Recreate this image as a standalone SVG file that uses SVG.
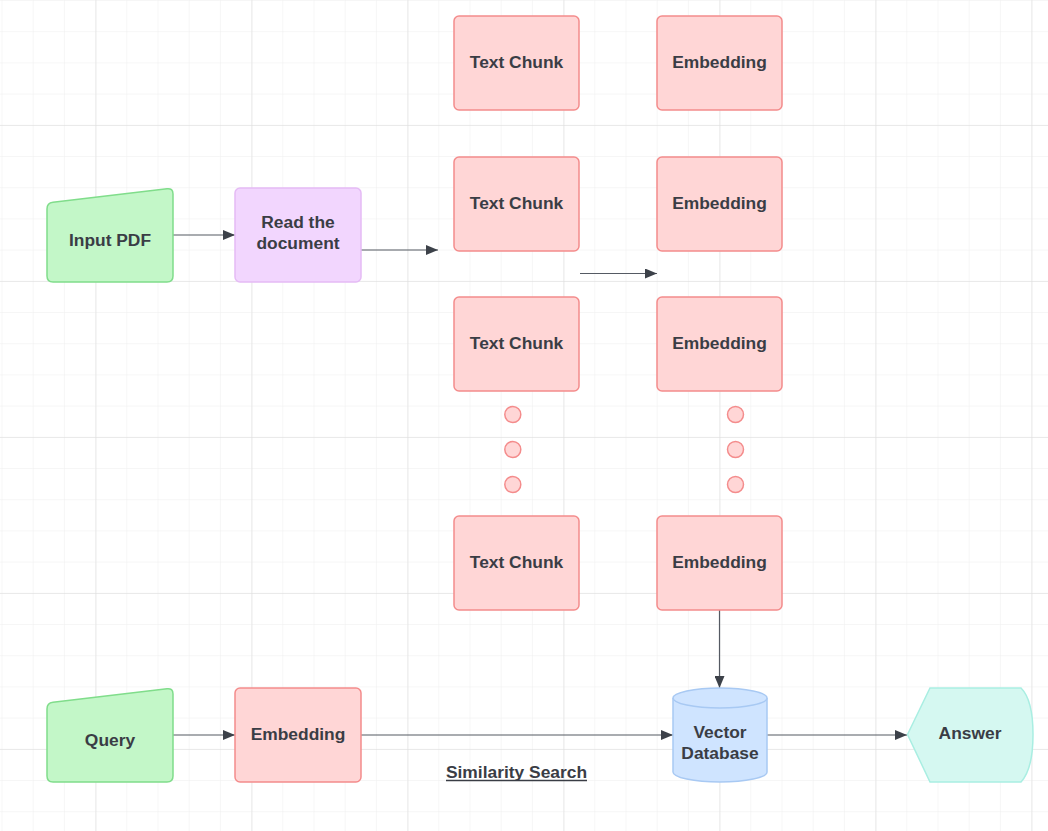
<svg xmlns="http://www.w3.org/2000/svg" width="1048" height="831" viewBox="0 0 1048 831">
  <defs>
    <pattern id="minor" patternUnits="userSpaceOnUse" x="1.5" y="0" width="31.2" height="31.2">
      <path d="M0 0 V31.2 M0 0 H31.2" fill="none" stroke="#eeeeee" stroke-width="1"/>
    </pattern>
    <pattern id="major" patternUnits="userSpaceOnUse" x="95.5" y="125" width="156" height="156">
      <path d="M0 0 V156 M0 0 H156" fill="none" stroke="#dcdcdc" stroke-width="1"/>
    </pattern>
    <marker id="arrow" viewBox="0 0 12 10" refX="12" refY="5" markerWidth="12" markerHeight="10" markerUnits="userSpaceOnUse" orient="auto">
      <path d="M0 0 L12 5 L0 10 Z" fill="#3c4149"/>
    </marker>
  </defs>
  <style>
    .lbl { font-family: "Liberation Sans", Arial, sans-serif; font-weight: bold; font-size: 17.4px; fill: #3a3d45; text-anchor: middle; dominant-baseline: central; }
    .red { fill: #ffd6d6; stroke: #f48c8c; stroke-width: 1.5; }
    .green { fill: #c3f7c8; stroke: #80dd8b; stroke-width: 1.5; }
    .purple { fill: #f2d6fe; stroke: #e5bbf5; stroke-width: 1.5; }
    .blue { fill: #cfe4ff; stroke: #a8c9f3; stroke-width: 1.5; }
    .teal { fill: #d5f8f1; stroke: #a9eee2; stroke-width: 1.5; }
    .conn { fill: none; stroke: #555a63; stroke-width: 1.2; marker-end: url(#arrow); }
  </style>

  <rect width="1048" height="831" fill="#ffffff"/>
  <rect width="1048" height="831" fill="url(#minor)"/>
  <rect width="1048" height="831" fill="url(#major)"/>

  <g id="connectors">
    <path class="conn" d="M173 235 H235"/>
    <path class="conn" d="M361 250 H438"/>
    <path class="conn" d="M580 273.5 H657"/>
    <path class="conn" d="M173 735 H235"/>
    <path class="conn" d="M361 735 H673"/>
    <path class="conn" d="M767 735 H907"/>
    <path class="conn" d="M719.5 610 V688"/>
  </g>

  <g id="input-pdf">
    <path class="green" d="M47 209 Q47 203 53 202.3 L167 188.7 Q173 188 173 194 V276 Q173 282 167 282 H53 Q47 282 47 276 Z"/>
    <text class="lbl" x="110" y="240">Input PDF</text>
  </g>

  <g id="read-document">
    <rect class="purple" x="235" y="188" width="126" height="94" rx="5"/>
    <text class="lbl" x="298" y="222">Read the</text>
    <text class="lbl" x="298" y="243">document</text>
  </g>

  <g id="chunk-1">
    <rect class="red" x="454" y="16" width="125" height="94" rx="5"/>
    <text class="lbl" x="516.5" y="62">Text Chunk</text>
  </g>
  <g id="chunk-2">
    <rect class="red" x="454" y="157" width="125" height="94" rx="5"/>
    <text class="lbl" x="516.5" y="203">Text Chunk</text>
  </g>
  <g id="chunk-3">
    <rect class="red" x="454" y="297" width="125" height="94" rx="5"/>
    <text class="lbl" x="516.5" y="343">Text Chunk</text>
  </g>
  <g id="chunk-n">
    <rect class="red" x="454" y="516" width="125" height="94" rx="5"/>
    <text class="lbl" x="516.5" y="562">Text Chunk</text>
  </g>

  <g id="embedding-1">
    <rect class="red" x="657" y="16" width="125" height="94" rx="5"/>
    <text class="lbl" x="719.5" y="62">Embedding</text>
  </g>
  <g id="embedding-2">
    <rect class="red" x="657" y="157" width="125" height="94" rx="5"/>
    <text class="lbl" x="719.5" y="203">Embedding</text>
  </g>
  <g id="embedding-3">
    <rect class="red" x="657" y="297" width="125" height="94" rx="5"/>
    <text class="lbl" x="719.5" y="343">Embedding</text>
  </g>
  <g id="embedding-n">
    <rect class="red" x="657" y="516" width="125" height="94" rx="5"/>
    <text class="lbl" x="719.5" y="562">Embedding</text>
  </g>

  <g id="chunk-dots">
    <circle class="red" cx="512.8" cy="414.5" r="8"/>
    <circle class="red" cx="512.8" cy="449.5" r="8"/>
    <circle class="red" cx="512.8" cy="484.5" r="8"/>
  </g>
  <g id="embedding-dots">
    <circle class="red" cx="735.5" cy="414.5" r="8"/>
    <circle class="red" cx="735.5" cy="449.5" r="8"/>
    <circle class="red" cx="735.5" cy="484.5" r="8"/>
  </g>

  <g id="query">
    <path class="green" d="M47 709 Q47 703 53 702.3 L167 688.7 Q173 688 173 694 V776 Q173 782 167 782 H53 Q47 782 47 776 Z"/>
    <text class="lbl" x="110" y="740">Query</text>
  </g>

  <g id="query-embedding">
    <rect class="red" x="235" y="688" width="126" height="94" rx="5"/>
    <text class="lbl" x="298" y="734">Embedding</text>
  </g>

  <g id="vector-database">
    <path class="blue" d="M673 698 A47 10 0 0 1 767 698 V772 A47 10 0 0 1 673 772 Z"/>
    <path class="blue" d="M673 698 A47 10 0 0 0 767 698" fill="none"/>
    <text class="lbl" x="720" y="732">Vector</text>
    <text class="lbl" x="720" y="753">Database</text>
  </g>

  <g id="answer">
    <path class="teal" d="M907.5 734.5 L930 688 H1021 Q1033 700 1033 734.5 Q1033 769 1021 782 H930 Z"/>
    <text class="lbl" x="970" y="733">Answer</text>
  </g>

  <g id="similarity-label">
    <text class="lbl" x="516.5" y="772">Similarity Search</text>
    <line x1="446" y1="780.5" x2="587" y2="780.5" stroke="#3a3d45" stroke-width="1.3"/>
  </g>
</svg>
